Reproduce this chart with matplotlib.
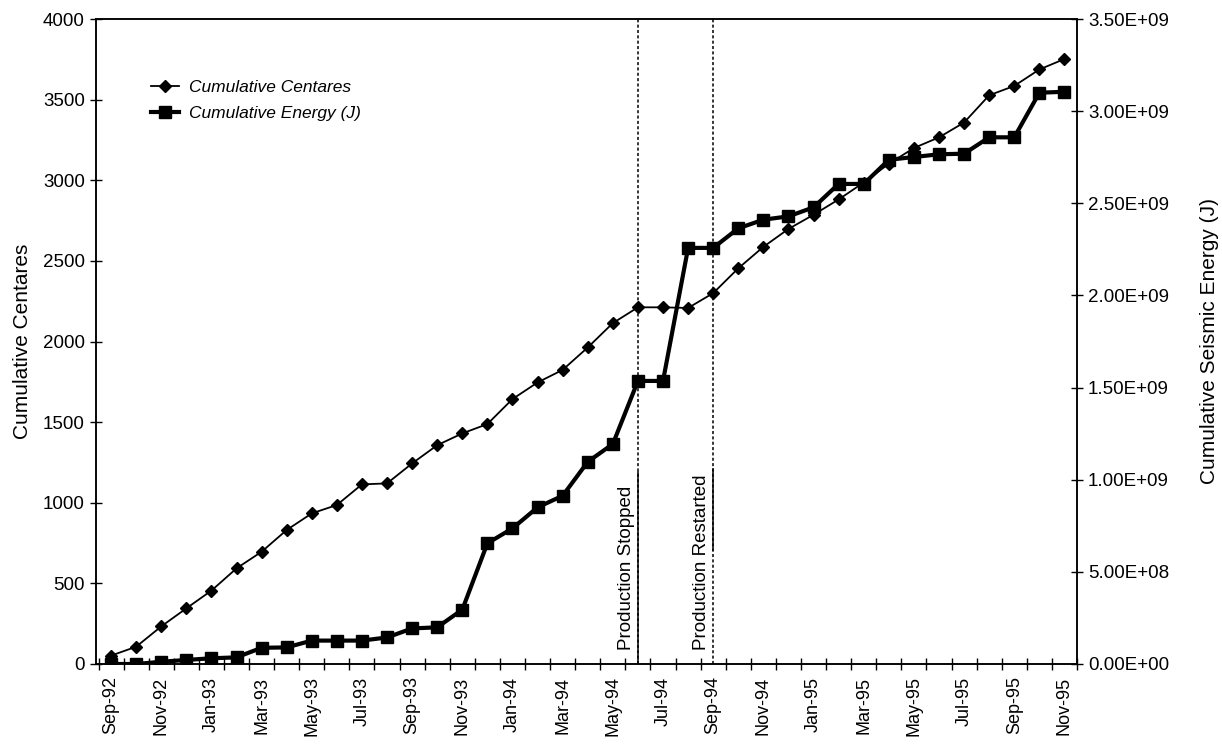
import matplotlib
matplotlib.use('Agg')
import matplotlib.pyplot as plt
import matplotlib.ticker as mt
import numpy as np

plt.rcParams['font.family'] = ['Liberation Sans', 'DejaVu Sans']

months = ['Sep-92', 'Oct-92', 'Nov-92', 'Dec-92', 'Jan-93', 'Feb-93', 'Mar-93', 'Apr-93',
          'May-93', 'Jun-93', 'Jul-93', 'Aug-93', 'Sep-93', 'Oct-93', 'Nov-93', 'Dec-93',
          'Jan-94', 'Feb-94', 'Mar-94', 'Apr-94', 'May-94', 'Jun-94', 'Jul-94', 'Aug-94',
          'Sep-94', 'Oct-94', 'Nov-94', 'Dec-94', 'Jan-95', 'Feb-95', 'Mar-95', 'Apr-95',
          'May-95', 'Jun-95', 'Jul-95', 'Aug-95', 'Sep-95', 'Oct-95', 'Nov-95']

centares = [52, 107, 233, 345, 455, 593, 696, 831, 934, 986, 1114, 1120, 1244, 1357,
            1430, 1488, 1643, 1746, 1824, 1963, 2114, 2212, 2212, 2208, 2300, 2454,
            2587, 2698, 2786, 2881, 2986, 3102, 3200, 3266, 3358, 3527, 3585, 3687, 3752]

# cumulative seismic energy in J
energy = [0, 0, 0.012e9, 0.022e9, 0.031e9, 0.036e9, 0.088e9, 0.090e9, 0.127e9, 0.127e9,
          0.127e9, 0.144e9, 0.193e9, 0.199e9, 0.295e9, 0.655e9, 0.736e9, 0.850e9, 0.913e9,
          1.097e9, 1.194e9, 1.536e9, 1.536e9, 2.258e9, 2.258e9, 2.364e9, 2.411e9, 2.429e9,
          2.478e9, 2.605e9, 2.605e9, 2.736e9, 2.751e9, 2.766e9, 2.769e9, 2.858e9, 2.858e9,
          3.100e9, 3.105e9]

events = ['Production Stopped', 'Production Restarted']
event_months = ['Jun-94', 'Sep-94']

x = np.arange(len(months))

fig = plt.figure(figsize=(12.22, 7.51), dpi=100)
fig.subplots_adjust(left=96/1222, right=1077/1222, bottom=1-664/751, top=1-19/751)
ax = fig.add_subplot(1, 1, 1)
ax2 = ax.twinx()

l1, = ax.plot(x, centares, color='black', lw=1.3, marker='D', ms=6.5, zorder=5,
              label='Cumulative Centares')
l2, = ax2.plot(x, energy, color='black', lw=3, marker='s', ms=8, zorder=5,
               label='Cumulative Energy (J)')

# production event lines
for name, m in zip(events, event_months):
    i = months.index(m)
    ax.axvline(i, color='black', lw=1.1, ls=(0, (2, 1.5)), zorder=3)
    ax.text(i - 0.47, 85, name, rotation=90, ha='center', va='bottom', fontsize=13.5)
ax.plot([21, 21], [0, 1190], color='black', lw=1.1)
ax.plot([24, 24], [710, 1210], color='black', lw=1.1)

ax.set_xlim(-0.6, len(months) - 0.5)
ax.set_ylim(0, 4000)
ax2.set_ylim(0, 3.5e9)

ax.set_xticks(x[::2])
ax.set_xticklabels(months[::2], rotation=90, fontsize=13)
ax.set_xticks(np.arange(-0.5, len(months), 1), minor=True)
ax.tick_params(axis='x', which='major', length=0, pad=9)
ax.tick_params(axis='x', which='minor', direction='inout', length=9, width=1)

ax.yaxis.set_major_locator(mt.MultipleLocator(500))
ax.tick_params(axis='y', direction='inout', length=9, width=1, labelsize=13.5)
ax2.yaxis.set_major_locator(mt.MultipleLocator(0.5e9))
ax2.yaxis.set_major_formatter(mt.FuncFormatter(lambda v, p: f'{v:.2E}'))
ax2.tick_params(axis='y', direction='inout', length=9, width=1, labelsize=13.5)

ax.set_ylabel('Cumulative Centares', fontsize=15, labelpad=8)
ax2.set_ylabel('Cumulative Seismic Energy (J)', fontsize=15, labelpad=22)

for a in (ax, ax2):
    for s in a.spines.values():
        s.set_linewidth(1.1)

leg = ax2.legend(handles=[l1, l2], loc='upper left', bbox_to_anchor=(0.04, 0.93),
                 frameon=False, prop={'style': 'italic', 'size': 12.5},
                 handlelength=1.6, handletextpad=0.6, labelspacing=0.65)

fig.savefig('out.png', dpi=100)
